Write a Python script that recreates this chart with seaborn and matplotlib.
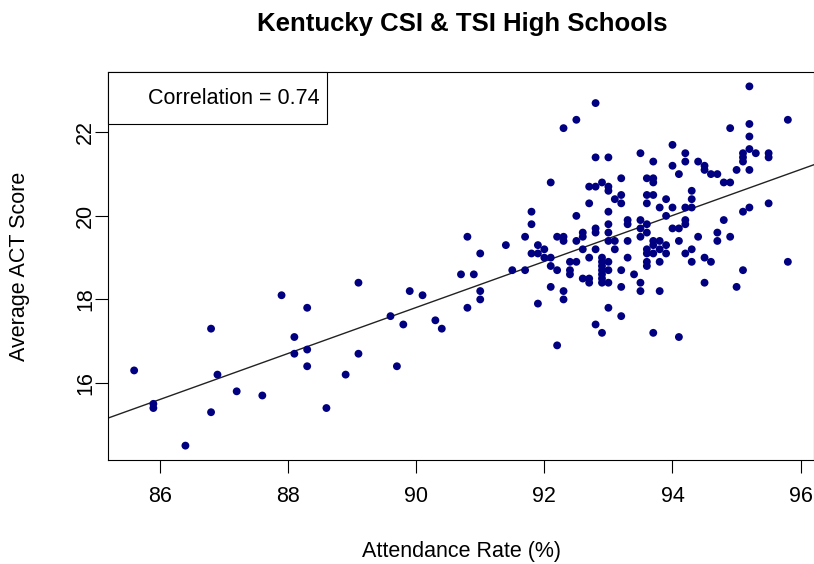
import matplotlib
matplotlib.use("Agg")
import matplotlib.pyplot as plt
import seaborn as sns
import pandas as pd
from matplotlib.patches import Rectangle

# ---- data ----
attendance_rate = [
    85.6,
    85.9, 85.9,
    86.4,
    86.8, 86.8,
    86.9,
    87.2,
    87.6,
    87.9,
    88.1, 88.1,
    88.3, 88.3, 88.3,
    88.6,
    88.9,
    89.1, 89.1,
    89.6, 89.7, 89.8, 89.9,
    90.1, 90.3, 90.4,
    90.7,
    90.8, 90.8,
    90.9,
    91.0, 91.0, 91.0,
    91.4, 91.5,
    91.7, 91.7,
    91.8, 91.8, 91.8,
    91.9, 91.9, 91.9,
    92.0, 92.0,
    92.1, 92.1, 92.1, 92.1,
    92.2, 92.2, 92.2,
    92.3, 92.3, 92.3, 92.3, 92.3,
    92.4, 92.4, 92.4,
    92.5, 92.5, 92.5, 92.5,
    92.6, 92.6, 92.6, 92.6,
    92.7, 92.7, 92.7, 92.7, 92.7,
    92.8, 92.8, 92.8, 92.8, 92.8, 92.8, 92.8,
    92.9, 92.9, 92.9, 92.9, 92.9, 92.9, 92.9, 92.9, 92.9,
    93.0, 93.0, 93.0, 93.0, 93.0, 93.0, 93.0, 93.0, 93.0, 93.0, 93.0,
    93.1, 93.1, 93.1,
    93.2, 93.2, 93.2, 93.2, 93.2, 93.2,
    93.3, 93.3, 93.3, 93.3,
    93.4,
    93.5, 93.5, 93.5, 93.5, 93.5, 93.5,
    93.6, 93.6, 93.6, 93.6, 93.6, 93.6, 93.6, 93.6, 93.6,
    93.7, 93.7, 93.7, 93.7, 93.7, 93.7, 93.7, 93.7,
    93.8, 93.8, 93.8, 93.8, 93.8,
    93.9, 93.9, 93.9, 93.9,
    94.0, 94.0, 94.0, 94.0,
    94.1, 94.1, 94.1, 94.1,
    94.2, 94.2, 94.2, 94.2, 94.2, 94.2,
    94.3, 94.3, 94.3, 94.3, 94.3,
    94.4, 94.4,
    94.5, 94.5, 94.5, 94.5,
    94.6, 94.6,
    94.7, 94.7, 94.7,
    94.8, 94.8,
    94.9, 94.9, 94.9,
    95.0, 95.0,
    95.1, 95.1, 95.1, 95.1, 95.1,
    95.2, 95.2, 95.2, 95.2, 95.2, 95.2,
    95.3,
    95.5, 95.5, 95.5,
    95.8, 95.8,
]

act_score = [
    16.3,
    15.5, 15.4,
    14.5,
    17.3, 15.3,
    16.2,
    15.8,
    15.7,
    18.1,
    17.1, 16.7,
    17.8, 16.8, 16.4,
    15.4,
    16.2,
    18.4, 16.7,
    17.6, 16.4, 17.4, 18.2,
    18.1, 17.5, 17.3,
    18.6,
    19.5, 17.8,
    18.6,
    19.1, 18.2, 18.0,
    19.3, 18.7,
    19.5, 18.7,
    20.1, 19.8, 19.1,
    19.3, 19.1, 17.9,
    19.2, 19.0,
    20.8, 19.0, 18.8, 18.3,
    19.5, 18.7, 16.9,
    22.1, 19.5, 19.4, 18.2, 18.0,
    18.9, 18.7, 18.6,
    22.3, 20.0, 19.4, 18.9,
    19.6, 19.5, 19.2, 18.5,
    20.7, 20.3, 19.0, 18.5, 18.4,
    22.7, 21.4, 20.7, 19.7, 19.6, 19.2, 17.4,
    20.8, 19.0, 18.9, 18.8, 18.7, 18.6, 18.5, 18.4, 17.2,
    21.4, 20.7, 20.6, 20.1, 19.8, 19.6, 19.4, 18.9, 18.7, 18.4, 17.8,
    20.4, 19.4, 19.2,
    20.9, 20.5, 20.3, 18.7, 18.3, 17.6,
    19.9, 19.8, 19.4, 19.0,
    18.6,
    21.5, 19.9, 19.7, 19.5, 18.4, 18.2,
    20.9, 20.5, 20.3, 19.8, 19.6, 19.2, 19.1, 18.9, 18.8,
    21.3, 20.9, 20.8, 20.5, 19.4, 19.3, 19.1, 17.2,
    20.2, 19.4, 19.2, 18.9, 18.2,
    20.4, 20.0, 19.3, 19.1,
    21.7, 21.2, 20.2, 19.7,
    21.0, 19.7, 19.4, 17.1,
    21.5, 21.3, 20.2, 19.9, 19.8, 19.1,
    20.6, 20.4, 20.2, 19.2, 18.9,
    21.3, 19.5,
    21.2, 21.1, 19.0, 18.4,
    21.0, 18.9,
    21.0, 19.6, 19.4,
    20.8, 19.9,
    22.1, 20.8, 19.5,
    21.1, 18.3,
    21.5, 21.4, 21.3, 20.1, 18.7,
    23.1, 22.2, 21.9, 21.6, 21.1, 20.2,
    21.5,
    21.5, 21.4, 20.3,
    22.3, 18.9,
]

x_ticks = [86, 88, 90, 92, 94, 96]
y_ticks = [16, 18, 20, 22]
title = "Kentucky CSI & TSI High Schools"
x_label = "Attendance Rate (%)"
y_label = "Average ACT Score"
legend_text = "Correlation = 0.74"

df = pd.DataFrame({"attendance": attendance_rate, "act": act_score})

# ---- style ----
sns.set_style("white")
plt.rcParams["font.family"] = ["Liberation Sans", "DejaVu Sans"]
plt.rcParams["text.color"] = "black"
plt.rcParams["xtick.color"] = "black"
plt.rcParams["ytick.color"] = "black"
plt.rcParams["axes.labelcolor"] = "black"

fig = plt.figure(figsize=(8.14, 5.64), dpi=100)
W, H = 814, 564
ax = fig.add_axes([108 / W, 104 / H, 706 / W, 388 / H])

# R-style 4% padding on the data range
xmin, xmax = min(attendance_rate), max(attendance_rate)
ymin, ymax = min(act_score), max(act_score)
xpad = 0.04 * (xmax - xmin)
ypad = 0.04 * (ymax - ymin)
ax.set_xlim(xmin - xpad, xmax + xpad)
ax.set_ylim(ymin - ypad, ymax + ypad)

sns.scatterplot(data=df, x="attendance", y="act", ax=ax, color="#000080",
                s=32, edgecolor="none", linewidth=0, zorder=3)
sns.regplot(data=df, x="attendance", y="act", ax=ax, scatter=False, ci=None,
            truncate=False, line_kws={"color": "#222222", "lw": 1.0, "zorder": 2})
ax.set_xlim(xmin - xpad, xmax + xpad)
ax.set_ylim(ymin - ypad, ymax + ypad)

ax.set_xticks(x_ticks)
ax.set_yticks(y_ticks)
ax.set_xticklabels([str(t) for t in x_ticks])
ax.set_yticklabels([str(t) for t in y_ticks], rotation=90, va="center")
ax.tick_params(axis="both", which="major", direction="out", length=9.5,
               width=0.8, color="black", labelcolor="black", labelsize=15.5,
               bottom=True, left=True)
ax.tick_params(axis="x", pad=9)
ax.tick_params(axis="y", pad=-1)

for sp in ax.spines.values():
    sp.set_visible(True)
    sp.set_color("black")
    sp.set_linewidth(0.8)

ax.set_xlabel("")
ax.set_ylabel("")
fig.text(462 / W, 1 - 552 / H, x_label, ha="center", va="center", fontsize=15.5,
         color="black")
fig.text(20 / W, 1 - 266 / H, y_label, ha="center", va="center", rotation=90,
         fontsize=15.5, color="black")
fig.text(462 / W, 1 - 24 / H, title, ha="center", va="center", fontsize=18.5,
         fontweight="bold", color="black")

# legend box (R legend without symbols)
ax.add_patch(Rectangle((0, 1 - 52 / 388), 219 / 706, 52 / 388, transform=ax.transAxes,
                       facecolor="white", edgecolor="black", lw=0.8, zorder=5,
                       clip_on=False))
ax.text(40 / 706, 1 - 26 / 388, legend_text, transform=ax.transAxes, ha="left",
        va="center", fontsize=15.5, zorder=6, color="black")

fig.savefig("out.png", dpi=100)
